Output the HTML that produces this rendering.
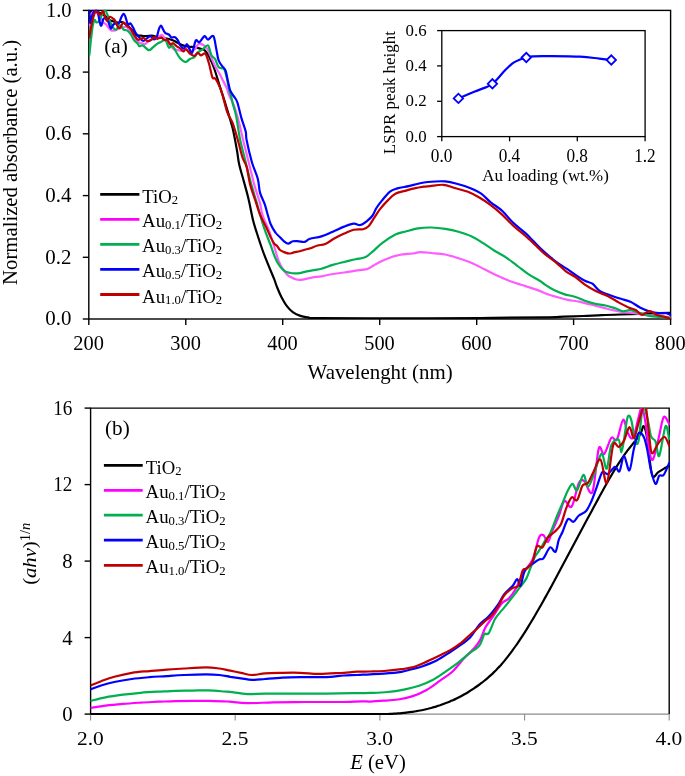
<!DOCTYPE html><html><head><meta charset="utf-8"><title>Absorbance</title><style>html,body{margin:0;padding:0;background:#fff;width:685px;height:776px;overflow:hidden}svg{display:block;will-change:transform}text{font-family:"Liberation Serif",serif;fill:#000}</style></head><body>
<svg width="685" height="776" viewBox="0 0 685 776">
<defs><clipPath id="ca"><rect x="88.8" y="9.4" width="582.8" height="309.6"/></clipPath><clipPath id="cb"><rect x="90.6" y="408.1" width="579.6" height="307.0"/></clipPath></defs>
<g stroke="#000" stroke-width="1.4" fill="none"><rect x="88.8" y="10.4" width="581.8" height="308.6"/><line x1="88.8" y1="319.0" x2="88.8" y2="325.0"/><line x1="185.8" y1="319.0" x2="185.8" y2="325.0"/><line x1="282.7" y1="319.0" x2="282.7" y2="325.0"/><line x1="379.7" y1="319.0" x2="379.7" y2="325.0"/><line x1="476.7" y1="319.0" x2="476.7" y2="325.0"/><line x1="573.6" y1="319.0" x2="573.6" y2="325.0"/><line x1="670.6" y1="319.0" x2="670.6" y2="325.0"/><line x1="82.8" y1="319.0" x2="88.8" y2="319.0"/><line x1="82.8" y1="257.3" x2="88.8" y2="257.3"/><line x1="82.8" y1="195.6" x2="88.8" y2="195.6"/><line x1="82.8" y1="133.8" x2="88.8" y2="133.8"/><line x1="82.8" y1="72.1" x2="88.8" y2="72.1"/><line x1="82.8" y1="10.4" x2="88.8" y2="10.4"/></g>
<g clip-path="url(#ca)" fill="none" stroke-width="2.2" stroke-linejoin="round" stroke-linecap="round">
<path d="M89.0,13.0 C89.5,12.7 90.8,11.2 92.0,11.0 C93.2,10.8 94.7,11.2 96.0,11.5 C97.3,11.8 98.5,12.2 100.0,13.0 C101.5,13.8 103.4,14.8 105.0,16.0 C106.6,17.1 108.0,19.0 109.5,19.9 C111.0,20.8 112.5,21.2 113.9,21.6 C115.3,22.0 116.5,22.4 117.8,22.5 C119.1,22.6 120.3,21.7 121.8,22.1 C123.3,22.5 125.2,23.7 127.0,25.1 C128.8,26.5 130.7,28.7 132.3,30.4 C133.9,32.1 135.2,34.3 136.7,35.2 C138.2,36.1 139.8,35.5 141.1,35.7 C142.4,35.9 143.1,36.2 144.4,36.2 C145.7,36.2 147.4,35.9 148.8,35.8 C150.2,35.7 151.7,35.6 153.1,35.8 C154.5,36.0 155.9,36.7 157.5,37.1 C159.1,37.5 161.1,37.7 162.8,38.0 C164.6,38.3 166.2,38.4 168.0,38.8 C169.8,39.2 171.7,39.9 173.3,40.6 C174.9,41.3 176.1,42.0 177.7,42.8 C179.3,43.6 181.0,44.8 182.9,45.4 C184.8,46.0 187.1,46.4 189.0,46.7 C190.9,47.0 192.6,46.9 194.3,47.2 C196.0,47.5 197.6,47.9 199.3,48.4 C201.0,48.9 202.9,48.8 204.5,50.1 C206.1,51.4 207.3,53.2 208.9,56.3 C210.5,59.4 212.3,63.2 214.2,68.5 C216.1,73.8 218.3,81.4 220.3,87.8 C222.3,94.2 224.4,100.4 226.4,107.1 C228.4,113.8 230.8,120.9 232.6,128.1 C234.3,135.2 235.8,144.1 236.9,150.0 C238.0,155.9 237.9,158.2 239.0,163.4 C240.1,168.6 242.1,175.1 243.7,180.9 C245.3,186.7 246.8,191.9 248.4,198.4 C250.0,204.9 251.6,214.3 253.0,220.0 C254.4,225.7 255.1,227.5 256.7,232.5 C258.3,237.5 260.6,244.6 262.5,250.0 C264.4,255.4 266.4,260.3 268.4,265.2 C270.3,270.1 272.8,275.6 274.2,279.2 C275.6,282.8 275.8,284.1 277.0,287.0 C278.2,289.9 279.7,293.7 281.4,296.9 C283.1,300.1 285.2,303.9 287.1,306.4 C289.0,308.9 290.6,310.5 292.8,312.1 C295.0,313.7 297.9,315.0 300.4,315.9 C302.9,316.8 304.9,317.0 308.0,317.4 C311.1,317.8 304.0,318.0 319.3,318.2 C334.6,318.4 373.2,318.3 400.0,318.3 C426.8,318.3 455.8,318.2 480.0,318.0 C504.2,317.8 531.0,317.5 545.0,317.3 C559.0,317.1 557.7,316.8 564.0,316.6 C570.3,316.4 576.7,316.2 583.0,316.0 C589.3,315.8 595.6,315.4 601.9,315.2 C608.2,314.9 614.6,314.7 620.9,314.5 C627.2,314.3 633.6,314.1 639.9,313.9 C646.2,313.7 653.9,313.4 658.9,313.2 C663.9,313.0 668.1,312.9 670.0,312.8" stroke="#000"/>
<path d="M89.5,25.0 C89.6,24.3 89.9,22.8 90.3,20.8 C90.7,18.8 91.2,14.4 92.0,12.9 C92.8,11.4 94.0,11.8 95.0,12.0 C96.0,12.2 97.0,13.0 98.0,14.0 C99.0,15.0 100.1,16.6 101.0,18.0 C101.9,19.4 102.6,21.4 103.4,22.5 C104.2,23.6 105.1,23.4 106.0,24.3 C106.9,25.2 107.7,26.8 108.6,27.8 C109.5,28.8 110.3,30.0 111.3,30.4 C112.3,30.8 113.6,30.7 114.8,30.4 C116.0,30.1 117.1,29.0 118.3,28.6 C119.5,28.2 120.5,28.1 121.8,27.8 C123.1,27.5 124.8,26.3 126.2,26.9 C127.7,27.5 129.1,29.4 130.5,31.3 C131.9,33.2 133.4,36.4 134.9,38.3 C136.4,40.2 138.0,41.8 139.3,42.7 C140.6,43.6 142.0,43.2 142.8,43.5 C143.7,43.8 143.4,44.9 144.4,44.5 C145.4,44.1 147.4,42.0 148.8,41.0 C150.2,40.0 151.7,39.0 153.1,38.4 C154.5,37.8 156.0,38.1 157.5,37.5 C159.0,36.9 160.6,34.6 161.9,34.9 C163.2,35.2 164.2,38.1 165.4,39.3 C166.6,40.5 167.6,40.3 168.9,41.9 C170.2,43.5 172.0,47.6 173.3,48.9 C174.6,50.2 175.5,49.5 176.8,49.8 C178.1,50.1 179.8,50.9 181.2,50.7 C182.6,50.6 183.9,48.8 185.5,48.9 C187.1,49.0 189.2,51.5 190.8,51.5 C192.4,51.5 194.2,49.7 195.2,48.9 C196.2,48.1 195.8,47.5 196.6,46.6 C197.4,45.7 198.1,43.4 199.8,43.7 C201.5,44.0 205.0,46.2 206.9,48.4 C208.8,50.6 209.7,54.1 211.0,57.0 C212.3,59.9 213.6,63.1 215.0,65.9 C216.4,68.7 218.3,71.5 219.7,74.0 C221.1,76.5 222.0,78.7 223.2,81.0 C224.4,83.3 225.7,85.7 226.7,88.0 C227.7,90.3 227.8,92.2 229.0,95.0 C230.2,97.8 232.1,100.7 233.7,105.0 C235.3,109.3 237.1,115.3 238.7,121.1 C240.3,126.9 241.5,133.3 243.1,140.0 C244.7,146.7 246.6,153.6 248.4,161.0 C250.2,168.4 252.3,177.4 254.2,184.4 C256.1,191.4 258.6,198.0 260.0,203.1 C261.4,208.2 261.1,210.7 262.5,215.0 C263.9,219.3 266.4,223.8 268.4,229.0 C270.3,234.2 272.4,241.1 274.2,246.5 C275.9,251.9 277.3,257.8 278.9,261.7 C280.4,265.6 281.9,267.6 283.5,269.9 C285.1,272.2 286.4,274.2 288.2,275.7 C289.9,277.1 292.0,277.9 294.0,278.6 C296.0,279.3 297.4,280.1 300.4,279.9 C303.4,279.7 308.3,278.2 311.8,277.6 C315.3,277.0 317.9,276.9 321.4,276.3 C324.9,275.7 329.0,274.6 332.8,274.0 C336.6,273.4 340.4,273.1 344.2,272.5 C348.0,271.9 351.7,271.2 355.5,270.6 C359.3,270.0 363.7,270.1 366.9,269.1 C370.1,268.2 371.3,266.5 374.5,264.9 C377.7,263.2 381.8,260.8 385.9,259.2 C390.0,257.6 394.8,255.9 399.2,255.0 C403.6,254.1 409.0,254.0 412.5,253.5 C416.0,253.0 416.9,252.3 420.1,252.2 C423.3,252.1 427.3,252.6 431.5,253.0 C435.7,253.4 440.7,253.6 445.2,254.5 C449.7,255.4 454.1,256.9 458.5,258.3 C462.9,259.7 467.4,261.1 471.8,263.0 C476.2,264.9 480.9,267.6 485.0,269.6 C489.1,271.7 492.3,273.4 496.4,275.3 C500.5,277.2 505.6,279.4 509.7,281.0 C513.8,282.6 516.7,283.4 521.1,284.8 C525.5,286.2 531.9,288.0 536.3,289.6 C540.7,291.2 544.4,293.1 547.7,294.3 C551.1,295.5 553.0,296.0 556.4,296.9 C559.8,297.8 564.0,299.0 567.8,299.8 C571.6,300.6 575.4,300.9 579.2,301.7 C583.0,302.5 586.7,303.6 590.5,304.5 C594.3,305.4 598.1,306.4 601.9,307.4 C605.7,308.3 609.8,309.4 613.3,310.2 C616.8,311.0 619.3,311.6 622.8,312.1 C626.3,312.6 630.7,312.6 634.2,313.1 C637.7,313.6 640.2,314.5 643.7,315.0 C647.2,315.5 651.3,315.6 655.1,315.9 C658.9,316.2 664.0,316.6 666.5,316.9 C669.0,317.2 669.4,317.4 670.0,317.5" stroke="#ff5cff"/>
<path d="M89.4,54.9 C89.7,52.1 90.5,43.3 91.1,38.3 C91.7,33.3 92.3,28.2 92.9,25.1 C93.5,22.0 94.0,20.3 94.6,19.9 C95.2,19.5 95.7,22.4 96.4,22.5 C97.1,22.6 98.0,22.2 99.0,20.8 C100.0,19.4 101.5,15.6 102.5,13.8 C103.5,12.1 104.2,10.0 105.1,10.3 C106.0,10.6 106.9,13.5 107.8,15.5 C108.7,17.5 109.4,20.3 110.4,22.5 C111.4,24.7 112.9,27.4 113.9,28.6 C114.9,29.8 115.5,30.1 116.5,29.5 C117.5,28.9 118.8,25.1 120.0,25.1 C121.2,25.1 122.3,28.6 123.5,29.5 C124.7,30.4 125.8,29.7 127.0,30.4 C128.2,31.1 129.3,32.3 130.5,33.9 C131.7,35.5 132.8,38.4 134.0,40.0 C135.2,41.6 136.7,42.5 137.6,43.5 C138.5,44.5 138.6,45.9 139.3,46.2 C140.0,46.5 141.2,45.4 141.9,45.3 C142.6,45.2 142.3,45.0 143.5,45.8 C144.7,46.6 147.2,50.0 148.8,50.2 C150.4,50.4 151.7,48.3 153.1,47.2 C154.5,46.1 156.2,44.5 157.5,43.6 C158.8,42.7 159.7,42.5 161.0,41.9 C162.3,41.3 164.1,39.1 165.4,40.1 C166.7,41.1 167.7,46.7 168.9,47.6 C170.1,48.5 171.2,45.1 172.4,45.8 C173.6,46.4 174.6,49.4 175.9,51.5 C177.2,53.6 178.7,56.8 180.3,58.5 C181.9,60.2 183.9,61.9 185.5,62.0 C187.1,62.1 188.4,59.8 189.9,59.0 C191.4,58.2 193.0,58.3 194.3,57.2 C195.6,56.1 196.4,53.7 197.8,52.4 C199.2,51.1 201.1,50.5 202.8,49.3 C204.5,48.1 206.6,44.4 208.0,45.4 C209.4,46.4 210.3,53.1 211.5,55.4 C212.7,57.6 213.8,57.0 215.0,58.9 C216.2,60.8 217.3,65.5 218.5,67.0 C219.7,68.5 221.0,67.8 222.0,68.2 C223.0,68.6 223.6,67.9 224.4,69.4 C225.2,71.0 225.9,74.2 226.7,77.5 C227.5,80.8 228.2,85.9 229.0,89.2 C229.8,92.5 230.8,95.1 231.4,97.4 C232.0,99.7 231.8,99.9 232.6,103.0 C233.4,106.1 234.8,109.6 236.1,115.8 C237.4,122.0 238.6,132.5 240.2,140.0 C241.8,147.5 243.6,153.6 245.4,161.0 C247.2,168.4 249.5,177.6 251.3,184.4 C253.2,191.2 255.0,196.8 256.5,201.9 C258.0,207.0 258.8,210.3 260.2,215.0 C261.6,219.7 263.1,225.1 264.9,230.2 C266.6,235.3 268.9,240.7 270.7,245.4 C272.4,250.1 273.8,254.7 275.4,258.2 C276.9,261.7 278.4,264.2 280.0,266.4 C281.6,268.5 283.1,270.0 284.7,271.1 C286.3,272.2 287.6,272.4 289.4,272.8 C291.1,273.2 293.2,273.4 295.2,273.4 C297.1,273.4 299.0,273.2 301.1,272.8 C303.2,272.4 305.8,271.6 308.1,271.1 C310.4,270.6 312.9,270.3 315.1,269.9 C317.3,269.5 318.4,269.5 321.4,268.7 C324.3,267.9 329.0,266.0 332.8,264.9 C336.6,263.8 340.4,262.9 344.2,262.0 C348.0,261.1 352.0,260.0 355.5,259.2 C359.0,258.4 362.1,258.6 365.0,257.3 C367.9,256.0 369.8,254.0 372.6,251.6 C375.5,249.2 378.3,245.9 382.1,243.1 C385.9,240.2 391.6,236.4 395.4,234.5 C399.2,232.6 401.1,232.7 404.9,231.7 C408.7,230.7 413.8,229.0 418.2,228.3 C422.6,227.6 427.0,227.4 431.5,227.5 C436.0,227.6 440.7,228.1 445.2,228.8 C449.7,229.5 454.1,230.4 458.5,231.7 C462.9,233.0 467.7,234.5 471.8,236.4 C475.9,238.3 479.3,240.7 483.1,243.1 C486.9,245.5 490.7,248.3 494.5,250.7 C498.3,253.1 502.1,254.8 505.9,257.3 C509.7,259.8 513.5,263.0 517.3,265.8 C521.1,268.6 524.9,271.9 528.7,274.4 C532.5,276.9 537.4,279.3 540.1,281.0 C542.8,282.7 542.6,283.1 545.0,284.6 C547.4,286.2 551.3,288.7 554.5,290.3 C557.7,291.9 560.5,293.0 564.0,294.1 C567.5,295.2 571.9,295.9 575.4,297.0 C578.9,298.1 581.7,299.6 584.9,300.7 C588.1,301.8 590.9,302.8 594.4,303.6 C597.9,304.4 602.2,304.7 605.7,305.5 C609.2,306.3 612.4,307.4 615.2,308.3 C618.1,309.2 620.3,310.9 622.8,311.2 C625.3,311.5 627.5,309.9 630.4,310.2 C633.2,310.5 636.7,312.2 639.9,313.1 C643.1,314.1 646.2,315.3 649.4,315.9 C652.6,316.5 655.4,316.6 658.9,316.9 C662.4,317.2 668.4,317.6 670.3,317.8" stroke="#00b050"/>
<path d="M89.3,10.5 C89.5,12.6 89.8,22.1 90.3,23.0 C90.8,23.9 91.4,17.8 92.0,16.0 C92.6,14.2 92.9,12.8 93.8,12.0 C94.7,11.2 96.1,8.8 97.3,11.1 C98.5,13.4 99.8,24.3 100.8,25.6 C101.8,26.9 102.5,20.2 103.4,19.0 C104.3,17.8 105.1,17.5 106.0,18.1 C106.9,18.7 107.8,20.8 108.6,22.5 C109.4,24.2 110.1,28.2 110.8,28.6 C111.5,29.0 112.2,26.0 113.0,25.1 C113.8,24.2 114.8,23.7 115.7,23.4 C116.7,23.1 117.8,24.4 118.7,23.4 C119.6,22.4 120.5,18.9 121.3,17.3 C122.1,15.7 122.8,14.0 123.5,13.8 C124.2,13.7 124.6,14.6 125.3,16.4 C126.0,18.1 127.0,23.1 127.9,24.3 C128.8,25.5 129.6,22.8 130.5,23.4 C131.4,24.0 132.3,26.2 133.2,27.8 C134.1,29.4 134.8,31.4 135.8,33.0 C136.8,34.6 138.6,36.5 139.3,37.4 C140.0,38.3 139.3,37.8 140.0,38.4 C140.7,39.0 142.3,41.0 143.5,41.0 C144.7,41.0 145.8,39.2 147.0,38.4 C148.2,37.6 149.3,36.1 150.5,36.2 C151.7,36.4 153.0,39.1 154.0,39.3 C155.0,39.5 155.8,39.1 156.6,37.5 C157.4,35.9 158.1,31.6 158.8,29.6 C159.5,27.6 160.3,25.7 161.0,25.7 C161.7,25.7 162.5,28.4 163.2,29.6 C163.9,30.8 164.4,32.3 165.4,33.1 C166.4,33.9 167.9,33.8 168.9,34.5 C169.9,35.2 170.6,37.1 171.5,37.5 C172.4,37.9 173.6,36.7 174.6,37.1 C175.6,37.5 176.8,38.7 177.7,40.1 C178.6,41.5 179.3,44.0 180.3,45.4 C181.3,46.8 182.7,48.7 183.8,48.5 C184.9,48.3 186.0,44.0 186.9,44.1 C187.8,44.2 188.6,47.5 189.5,48.9 C190.4,50.3 191.0,54.2 192.1,52.8 C193.2,51.4 194.6,42.2 195.8,40.5 C197.0,38.8 197.9,43.0 199.3,42.3 C200.8,41.6 203.1,36.5 204.5,36.1 C205.9,35.7 206.5,39.6 208.0,39.6 C209.5,39.6 211.9,34.6 213.3,36.1 C214.7,37.6 215.3,44.4 216.2,48.4 C217.1,52.4 217.5,57.1 218.5,60.0 C219.5,62.9 220.8,64.2 222.0,65.9 C223.2,67.7 224.5,68.0 225.5,70.5 C226.5,73.0 227.1,77.7 227.9,81.0 C228.7,84.3 229.2,87.9 230.2,90.4 C231.2,92.9 232.5,94.3 233.7,96.2 C234.9,98.1 235.9,98.4 237.2,102.0 C238.5,105.6 239.9,112.7 241.3,117.6 C242.7,122.5 244.8,127.9 245.7,131.6 C246.6,135.3 245.6,134.9 246.6,140.0 C247.6,145.1 250.1,155.8 251.9,162.2 C253.8,168.6 256.3,173.4 257.7,178.5 C259.1,183.6 258.8,188.3 260.0,192.6 C261.2,196.9 263.4,200.5 264.7,204.2 C266.0,207.9 266.8,211.7 267.8,215.0 C268.8,218.3 269.4,221.4 270.7,224.3 C272.0,227.2 273.8,230.3 275.4,232.5 C276.9,234.7 278.6,235.7 280.0,237.2 C281.4,238.7 282.7,240.2 284.1,241.3 C285.5,242.4 286.7,243.6 288.2,243.6 C289.7,243.6 291.1,241.7 292.9,241.3 C294.6,240.9 296.8,241.2 298.7,241.3 C300.6,241.4 302.7,242.3 304.6,241.9 C306.5,241.5 307.2,239.6 310.0,238.7 C312.8,237.8 317.6,237.6 321.4,236.4 C325.2,235.2 329.0,233.3 332.8,231.7 C336.6,230.1 340.7,227.9 344.2,226.6 C347.7,225.3 351.0,224.0 353.7,223.7 C356.4,223.4 358.1,225.4 360.3,225.0 C362.5,224.6 364.8,222.8 366.9,221.2 C368.9,219.6 371.0,217.7 372.6,215.5 C374.2,213.3 374.8,210.5 376.4,208.0 C378.0,205.5 379.9,203.1 382.1,200.4 C384.3,197.7 387.2,193.8 389.7,191.8 C392.2,189.8 394.1,189.4 397.3,188.4 C400.5,187.4 405.2,186.9 408.7,186.1 C412.2,185.3 415.0,184.4 418.2,183.7 C421.4,183.0 423.2,182.4 427.7,182.0 C432.2,181.6 440.1,181.0 445.2,181.4 C450.3,181.8 454.4,183.1 458.5,184.2 C462.6,185.3 466.1,186.4 469.9,188.0 C473.7,189.6 477.7,191.3 481.2,193.7 C484.7,196.1 487.2,199.5 490.7,202.3 C494.2,205.2 498.3,207.3 502.1,210.8 C505.9,214.3 509.7,219.5 513.5,223.1 C517.3,226.7 521.7,229.8 524.9,232.6 C528.1,235.4 529.3,237.0 532.5,240.2 C535.7,243.4 540.5,248.5 543.9,251.6 C547.2,254.7 549.9,256.8 552.6,259.0 C555.3,261.2 557.7,263.0 560.2,264.7 C562.7,266.4 564.9,267.5 567.8,269.4 C570.6,271.3 574.4,274.2 577.3,276.1 C580.1,278.0 582.4,279.5 584.9,280.8 C587.4,282.1 589.9,282.0 592.4,283.7 C594.9,285.4 597.1,289.3 600.0,291.2 C602.9,293.1 606.0,293.7 609.5,295.0 C613.0,296.3 617.4,297.7 620.9,298.8 C624.4,299.9 627.2,300.3 630.4,301.7 C633.6,303.1 636.7,305.8 639.9,307.4 C643.1,309.0 646.2,310.2 649.4,311.2 C652.6,312.1 656.0,312.8 658.9,313.1 C661.8,313.4 664.6,312.8 666.5,313.1 C668.4,313.4 669.7,314.7 670.3,315.0" stroke="#0000ff"/>
<path d="M89.4,37.4 C89.7,35.6 90.4,30.2 91.1,26.9 C91.8,23.5 92.6,19.9 93.3,17.3 C94.0,14.8 94.8,12.3 95.5,11.6 C96.2,10.9 96.9,12.4 97.7,12.9 C98.5,13.4 99.4,14.9 100.3,14.6 C101.2,14.3 102.3,10.9 103.0,11.1 C103.7,11.2 104.0,13.9 104.7,15.5 C105.4,17.1 106.0,20.6 106.9,20.8 C107.8,21.0 109.0,17.2 110.0,16.8 C111.0,16.4 112.1,17.9 113.0,18.6 C113.9,19.3 114.4,19.4 115.2,20.8 C116.0,22.2 117.0,25.7 117.8,26.9 C118.6,28.1 119.0,28.5 120.0,27.8 C121.0,27.1 122.3,22.8 123.5,22.5 C124.7,22.2 125.8,25.0 127.0,26.0 C128.2,27.0 129.3,27.1 130.5,28.6 C131.7,30.1 132.8,33.0 134.0,34.8 C135.2,36.6 136.6,38.9 137.6,39.6 C138.6,40.3 139.2,39.5 140.2,39.2 C141.2,38.9 142.4,37.7 143.5,38.0 C144.6,38.3 145.7,40.7 147.0,41.0 C148.3,41.3 150.2,40.4 151.4,39.7 C152.6,39.1 153.0,37.2 154.0,37.1 C155.0,37.0 156.3,38.7 157.5,38.8 C158.7,38.9 159.8,37.3 161.0,37.5 C162.2,37.7 163.5,39.7 164.5,40.1 C165.5,40.5 166.2,39.0 167.2,39.7 C168.1,40.4 169.2,43.9 170.2,44.5 C171.2,45.1 172.2,42.9 173.3,43.2 C174.4,43.5 175.6,45.4 176.8,46.3 C178.0,47.2 179.2,47.6 180.3,48.5 C181.4,49.4 182.5,51.4 183.4,51.5 C184.3,51.6 184.9,48.9 186.0,49.3 C187.1,49.7 188.5,52.6 189.9,53.7 C191.3,54.8 193.0,56.0 194.3,55.9 C195.6,55.8 196.7,52.9 197.8,52.8 C198.9,52.7 199.7,55.2 201.0,55.4 C202.3,55.5 204.1,52.4 205.4,53.7 C206.7,55.0 207.7,59.4 208.9,63.3 C210.1,67.2 211.4,74.8 212.4,77.3 C213.4,79.8 214.1,77.3 215.0,78.2 C215.9,79.1 216.5,80.1 217.7,82.6 C218.9,85.1 220.4,88.1 222.0,93.1 C223.6,98.0 225.5,107.3 227.3,112.3 C229.1,117.3 230.8,118.3 232.6,122.9 C234.3,127.5 236.2,134.2 237.8,140.0 C239.5,145.8 241.0,153.0 242.5,157.5 C244.0,162.0 245.3,162.4 246.6,166.9 C247.9,171.4 248.6,178.8 250.1,184.4 C251.6,190.0 253.7,195.6 255.4,200.7 C257.1,205.8 258.4,210.7 260.2,215.0 C262.0,219.3 264.2,223.0 266.0,226.7 C267.8,230.4 269.3,234.4 270.7,237.2 C272.1,240.0 273.1,242.1 274.2,243.6 C275.3,245.1 276.1,244.8 277.1,245.9 C278.1,247.0 278.7,248.9 280.0,250.0 C281.3,251.1 283.1,251.8 284.7,252.4 C286.3,253.0 287.8,253.5 289.4,253.5 C290.9,253.5 292.2,252.8 294.0,252.4 C295.8,252.0 297.9,251.7 299.9,251.2 C301.8,250.7 303.9,250.0 305.7,249.5 C307.4,249.0 308.4,249.0 310.4,248.3 C312.4,247.6 315.1,246.2 317.6,245.5 C320.1,244.8 322.4,245.2 325.2,244.0 C328.0,242.8 331.5,240.0 334.7,238.3 C337.9,236.6 341.0,235.0 344.2,233.6 C347.4,232.2 350.5,230.5 353.7,229.8 C356.9,229.1 360.6,229.8 363.1,229.2 C365.6,228.6 366.9,228.0 368.8,226.0 C370.7,224.0 372.6,220.2 374.5,217.4 C376.4,214.6 378.0,211.7 380.2,208.9 C382.4,206.1 385.3,202.9 387.8,200.4 C390.3,197.9 392.5,195.3 395.4,193.7 C398.2,192.1 401.7,191.8 404.9,190.9 C408.1,190.0 411.2,189.1 414.4,188.4 C417.6,187.7 421.3,187.1 423.9,186.7 C426.5,186.3 426.8,186.4 430.0,186.1 C433.2,185.8 439.2,184.5 443.3,184.8 C447.4,185.1 450.6,186.8 454.7,188.0 C458.8,189.2 463.9,190.2 468.0,191.8 C472.1,193.4 475.5,195.3 479.3,197.5 C483.1,199.7 486.9,202.2 490.7,205.1 C494.5,207.9 498.3,211.1 502.1,214.6 C505.9,218.1 509.7,222.5 513.5,226.0 C517.3,229.5 521.1,232.2 524.9,235.5 C528.7,238.8 532.9,242.8 536.3,245.9 C539.6,249.0 541.6,251.4 545.0,254.2 C548.4,257.0 552.9,259.9 556.4,262.8 C559.9,265.7 562.7,268.9 565.9,271.3 C569.1,273.7 572.2,274.8 575.4,277.0 C578.6,279.2 581.4,282.2 584.9,284.6 C588.4,287.0 592.4,289.3 596.2,291.2 C600.0,293.1 603.8,294.1 607.6,296.0 C611.4,297.9 615.5,300.7 619.0,302.6 C622.5,304.5 625.6,306.1 628.5,307.4 C631.4,308.7 633.9,308.9 636.1,310.2 C638.3,311.5 639.6,314.8 641.8,315.0 C644.0,315.2 646.9,311.2 649.4,311.2 C651.9,311.2 654.5,314.1 657.0,315.0 C659.5,315.9 662.4,316.3 664.6,316.9 C666.8,317.5 669.3,318.5 670.3,318.8" stroke="#c00000"/>
</g>
<text transform="translate(73.31,350.25) scale(1.0195,1.0074)" font-size="20">200</text>
<text transform="translate(170.28,350.25) scale(1.0195,1.0074)" font-size="20">300</text>
<text transform="translate(267.25,350.25) scale(1.0195,1.0074)" font-size="20">400</text>
<text transform="translate(364.21,350.25) scale(1.0195,1.0074)" font-size="20">500</text>
<text transform="translate(461.18,350.25) scale(1.0195,1.0074)" font-size="20">600</text>
<text transform="translate(558.15,350.25) scale(1.0195,1.0074)" font-size="20">700</text>
<text transform="translate(655.11,350.25) scale(1.0195,1.0074)" font-size="20">800</text>
<text transform="translate(45.31,325.44) scale(1.0468,1.0593)" font-size="20">0.0</text>
<text transform="translate(45.31,263.72) scale(1.0468,1.0593)" font-size="20">0.2</text>
<text transform="translate(45.31,202.00) scale(1.0468,1.0593)" font-size="20">0.4</text>
<text transform="translate(45.31,140.28) scale(1.0468,1.0593)" font-size="20">0.6</text>
<text transform="translate(45.31,78.56) scale(1.0468,1.0593)" font-size="20">0.8</text>
<text transform="translate(45.90,16.94) scale(1.0267,1.0222)" font-size="20">1.0</text>
<text transform="translate(307.60,379.28) scale(1.0449,1.0167)" font-size="20">Wavelenght (nm)</text>
<text transform="translate(17.30,284.92) rotate(-90) scale(1.0372,1.0111)" font-size="20">Normalized absorbance (a.u.)</text>
<text transform="translate(104.13,53.08) scale(1.0667,1.0167)" font-size="20">(a)</text>
<line x1="100.2" y1="194.4" x2="139.4" y2="194.4" stroke="#000" stroke-width="2.8"/><text transform="translate(142.25,202.69) scale(1.0116,0.9786)" font-size="18.5">TiO<tspan font-size="12.5" dy="1.8">2</tspan></text><line x1="100.2" y1="219.3" x2="139.4" y2="219.3" stroke="#ff00ff" stroke-width="2.8"/><text transform="translate(142.05,227.36) scale(1.0174,1.0175)" font-size="18.5">Au<tspan font-size="12.5" dy="1.8">0.1</tspan><tspan dy="-1.8">/TiO</tspan><tspan font-size="12.5" dy="1.8">2</tspan></text><line x1="100.2" y1="244.4" x2="139.4" y2="244.4" stroke="#00b050" stroke-width="2.8"/><text transform="translate(142.05,252.46) scale(1.0174,1.0175)" font-size="18.5">Au<tspan font-size="12.5" dy="1.8">0.3</tspan><tspan dy="-1.8">/TiO</tspan><tspan font-size="12.5" dy="1.8">2</tspan></text><line x1="100.2" y1="269.4" x2="139.4" y2="269.4" stroke="#0000ff" stroke-width="2.8"/><text transform="translate(142.05,277.46) scale(1.0174,1.0175)" font-size="18.5">Au<tspan font-size="12.5" dy="1.8">0.5</tspan><tspan dy="-1.8">/TiO</tspan><tspan font-size="12.5" dy="1.8">2</tspan></text><line x1="100.2" y1="294.5" x2="139.4" y2="294.5" stroke="#c00000" stroke-width="2.8"/><text transform="translate(142.05,302.56) scale(1.0174,1.0175)" font-size="18.5">Au<tspan font-size="12.5" dy="1.8">1.0</tspan><tspan dy="-1.8">/TiO</tspan><tspan font-size="12.5" dy="1.8">2</tspan></text>
<g stroke="#000" stroke-width="1.3" fill="none"><rect x="441.8" y="30.6" width="203.3" height="106.0"/><line x1="441.8" y1="136.6" x2="441.8" y2="141.29999999999998"/><line x1="509.6" y1="136.6" x2="509.6" y2="141.29999999999998"/><line x1="577.3" y1="136.6" x2="577.3" y2="141.29999999999998"/><line x1="645.1" y1="136.6" x2="645.1" y2="141.29999999999998"/><line x1="437.1" y1="136.6" x2="441.8" y2="136.6"/><line x1="437.1" y1="101.3" x2="441.8" y2="101.3"/><line x1="437.1" y1="65.9" x2="441.8" y2="65.9"/><line x1="437.1" y1="30.6" x2="441.8" y2="30.6"/></g>
<text transform="translate(430.86,161.92) scale(1.0789,1.1163)" font-size="16">0.0</text>
<text transform="translate(498.63,161.92) scale(1.0789,1.1163)" font-size="16">0.4</text>
<text transform="translate(566.39,161.92) scale(1.0789,1.1163)" font-size="16">0.8</text>
<text transform="translate(634.16,161.92) scale(1.0789,1.1163)" font-size="16">1.2</text>
<text transform="translate(405.57,141.63) scale(1.0526,1.0884)" font-size="16">0.0</text>
<text transform="translate(405.57,106.29) scale(1.0526,1.0884)" font-size="16">0.2</text>
<text transform="translate(405.57,70.96) scale(1.0526,1.0884)" font-size="16">0.4</text>
<text transform="translate(405.57,35.63) scale(1.0526,1.0884)" font-size="16">0.6</text>
<text transform="translate(482.34,181.28) scale(1.0582,1.0345)" font-size="16">Au loading (wt.%)</text>
<text transform="translate(394.73,154.13) rotate(-90) scale(1.0575,1.0759)" font-size="16">LSPR peak height</text>
<path d="M458.4,98.4 C461.0,97.3 469.4,93.8 474.2,91.8 C479.0,89.8 484.3,88.0 487.3,86.7 C490.3,85.4 490.7,85.1 492.4,83.8 C494.1,82.5 495.8,80.7 497.6,78.7 C499.4,76.8 501.5,74.2 503.4,72.1 C505.3,70.0 507.5,67.9 509.2,66.3 C510.9,64.7 511.9,63.7 513.6,62.6 C515.3,61.5 517.4,60.6 519.5,59.7 C521.6,58.9 524.1,58.0 526.3,57.5 C528.5,57.0 529.5,56.6 532.6,56.4 C535.7,56.2 537.1,56.0 545.0,56.1 C552.9,56.2 571.0,56.3 580.0,56.7 C589.0,57.1 594.1,58.1 599.3,58.6 C604.5,59.1 609.3,59.8 611.3,60.0" fill="none" stroke="#0000ff" stroke-width="2.2"/>
<path d="M453.7,98.4 L458.4,93.7 L463.1,98.4 L458.4,103.1 Z" fill="#fff" stroke="#0000ff" stroke-width="1.8"/>
<path d="M487.7,83.8 L492.4,79.1 L497.1,83.8 L492.4,88.5 Z" fill="#fff" stroke="#0000ff" stroke-width="1.8"/>
<path d="M521.6,57.5 L526.3,52.8 L531.0,57.5 L526.3,62.2 Z" fill="#fff" stroke="#0000ff" stroke-width="1.8"/>
<path d="M606.6,60.0 L611.3,55.3 L616.0,60.0 L611.3,64.7 Z" fill="#fff" stroke="#0000ff" stroke-width="1.8"/>
<g stroke="#000" stroke-width="1.4" fill="none"><line x1="90.6" y1="714.1" x2="669.2" y2="714.1" stroke="#8c8c8c" stroke-width="1.1"/><path d="M90.6,714.1 V408.1 H669.2 V714.1"/><line x1="90.6" y1="714.1" x2="90.6" y2="720.6" stroke="#8c8c8c" stroke-width="1.1"/><line x1="235.2" y1="714.1" x2="235.2" y2="720.6" stroke="#8c8c8c" stroke-width="1.1"/><line x1="379.9" y1="714.1" x2="379.9" y2="720.6" stroke="#8c8c8c" stroke-width="1.1"/><line x1="524.6" y1="714.1" x2="524.6" y2="720.6" stroke="#8c8c8c" stroke-width="1.1"/><line x1="669.2" y1="714.1" x2="669.2" y2="720.6" stroke="#8c8c8c" stroke-width="1.1"/><line x1="84.6" y1="714.1" x2="90.6" y2="714.1"/><line x1="84.6" y1="637.6" x2="90.6" y2="637.6"/><line x1="84.6" y1="561.1" x2="90.6" y2="561.1"/><line x1="84.6" y1="484.6" x2="90.6" y2="484.6"/><line x1="84.6" y1="408.1" x2="90.6" y2="408.1"/></g>
<g clip-path="url(#cb)" fill="none" stroke-width="2.2" stroke-linejoin="round" stroke-linecap="round">
<path d="M90.6,714.0 C135.5,714.0 313.1,714.1 360.0,714.1 C406.9,714.2 369.3,714.2 372.0,714.3 C374.7,714.3 374.7,714.3 376.0,714.2 C377.3,714.2 378.7,714.2 380.0,714.2 C381.3,714.2 382.7,714.2 384.0,714.1 C385.3,714.1 386.7,714.0 388.0,714.0 C389.3,713.9 390.7,713.9 392.0,713.8 C393.3,713.7 394.7,713.7 396.0,713.6 C397.3,713.5 398.7,713.4 400.0,713.3 C401.3,713.1 402.7,713.0 404.0,712.9 C405.3,712.7 406.7,712.6 408.0,712.4 C409.3,712.3 410.7,712.1 412.0,711.9 C413.3,711.7 414.7,711.5 416.0,711.2 C417.3,711.0 418.7,710.8 420.0,710.5 C421.3,710.3 422.7,710.0 424.0,709.7 C425.3,709.4 426.7,709.1 428.0,708.8 C429.3,708.4 430.7,708.1 432.0,707.7 C433.3,707.3 434.7,707.0 436.0,706.6 C437.3,706.1 438.7,705.7 440.0,705.3 C441.3,704.8 442.7,704.3 444.0,703.8 C445.3,703.3 446.7,702.8 448.0,702.3 C449.3,701.7 450.7,701.2 452.0,700.6 C453.3,700.0 454.7,699.4 456.0,698.7 C457.3,698.1 458.7,697.4 460.0,696.7 C461.3,696.0 462.7,695.3 464.0,694.5 C465.3,693.8 466.7,693.0 468.0,692.2 C469.3,691.4 470.7,690.6 472.0,689.7 C473.3,688.8 474.7,687.9 476.0,687.0 C477.3,686.1 478.7,685.1 480.0,684.1 C481.3,683.1 482.7,682.1 484.0,681.0 C485.3,680.0 486.7,678.8 488.0,677.7 C489.3,676.5 490.7,675.3 492.0,674.1 C493.3,672.8 494.7,671.5 496.0,670.2 C497.3,668.8 498.7,667.4 500.0,666.0 C501.3,664.5 502.7,663.0 504.0,661.4 C505.3,659.8 506.7,658.1 508.0,656.4 C509.3,654.7 510.7,652.9 512.0,651.1 C513.3,649.3 514.7,647.4 516.0,645.5 C517.3,643.6 518.7,641.7 520.0,639.6 C521.3,637.6 522.7,635.6 524.0,633.5 C525.3,631.4 526.7,629.3 528.0,627.1 C529.3,625.0 530.7,622.7 532.0,620.5 C533.3,618.3 534.7,616.0 536.0,613.7 C537.3,611.4 538.7,609.1 540.0,606.8 C541.3,604.5 542.7,602.1 544.0,599.7 C545.3,597.3 546.7,594.9 548.0,592.5 C549.3,590.1 550.7,587.6 552.0,585.2 C553.3,582.7 554.7,580.3 556.0,577.8 C557.3,575.3 558.7,572.8 560.0,570.3 C561.3,567.8 562.7,565.3 564.0,562.8 C565.3,560.3 566.7,557.8 568.0,555.3 C569.3,552.8 570.7,550.3 572.0,547.8 C573.3,545.3 574.7,542.8 576.0,540.3 C577.3,537.8 578.7,535.3 580.0,532.8 C581.3,530.3 582.7,527.8 584.0,525.3 C585.3,522.8 586.7,520.3 588.0,517.8 C589.3,515.3 590.7,512.8 592.0,510.4 C593.3,507.9 594.7,505.4 596.0,503.0 C597.3,500.5 598.7,498.0 600.0,495.6 C601.3,493.2 602.7,490.7 604.0,488.3 C605.3,485.9 606.7,483.6 608.0,481.2 C609.3,478.9 610.7,476.6 612.0,474.3 C613.3,472.1 614.7,469.8 616.0,467.7 C617.3,465.5 618.7,463.4 620.0,461.4 C621.3,459.3 622.7,457.3 624.0,455.4 C625.3,453.5 626.7,451.7 628.0,449.9 C629.3,448.1 630.0,447.4 632.0,444.8 C634.0,442.2 638.2,437.4 640.2,434.3 C642.2,431.2 642.6,425.3 643.8,426.2 C645.0,427.1 646.3,433.5 647.4,439.7 C648.5,445.9 649.2,457.0 650.1,463.2 C651.0,469.4 651.5,475.2 652.9,476.7 C654.3,478.2 656.2,473.7 658.3,472.2 C660.4,470.7 663.7,468.8 665.5,467.7 C667.3,466.6 668.5,466.2 669.1,465.9" stroke="#000"/>
<path d="M90.6,707.9 C93.1,707.5 100.1,706.4 105.5,705.7 C110.9,705.0 117.2,704.4 123.0,703.9 C128.8,703.4 134.8,703.0 140.6,702.6 C146.4,702.2 152.3,702.0 158.1,701.7 C163.9,701.5 169.8,701.2 175.6,701.1 C181.4,701.0 187.6,700.9 193.1,700.9 C198.6,700.9 203.3,700.8 208.4,700.9 C213.5,701.0 220.2,701.2 223.8,701.3 C227.4,701.4 226.1,701.4 230.0,701.7 C233.9,702.0 240.2,703.0 247.5,703.1 C254.8,703.2 263.9,702.6 273.8,702.4 C283.7,702.2 295.7,702.1 306.6,702.0 C317.6,701.9 330.4,702.1 339.5,702.0 C348.6,701.9 356.3,701.4 361.4,701.3 C366.5,701.2 366.2,701.7 370.0,701.6 C373.8,701.5 379.3,701.1 384.0,700.7 C388.7,700.4 393.3,700.2 398.0,699.5 C402.7,698.8 407.3,697.9 412.0,696.4 C416.7,694.9 421.4,692.8 426.1,690.2 C430.8,687.6 435.7,683.7 440.1,680.6 C444.5,677.5 448.5,675.3 452.3,671.8 C456.1,668.3 459.4,663.4 462.9,659.6 C466.4,655.8 470.5,652.3 473.4,649.1 C476.2,645.9 478.0,644.0 480.0,640.4 C482.0,636.8 483.3,631.3 485.5,627.3 C487.7,623.3 490.4,620.3 493.1,616.3 C495.8,612.3 499.3,606.1 501.9,603.2 C504.5,600.3 506.3,601.0 508.5,598.8 C510.7,596.6 512.5,594.4 515.0,590.0 C517.5,585.6 520.9,577.7 523.8,572.6 C526.7,567.5 530.0,565.2 532.6,559.4 C535.2,553.5 537.3,541.5 539.1,537.5 C540.9,533.5 542.0,534.6 543.5,535.3 C545.0,536.0 546.4,542.6 547.9,541.9 C549.4,541.2 550.4,535.4 552.3,531.0 C554.1,526.6 557.0,520.5 559.0,515.5 C561.0,510.5 562.3,502.5 564.4,501.0 C566.5,499.5 569.3,509.5 571.7,506.5 C574.1,503.5 576.8,487.2 578.9,483.0 C581.0,478.8 582.0,479.7 584.3,481.2 C586.5,482.7 590.0,497.4 592.4,492.0 C594.8,486.6 596.8,455.0 598.7,448.7 C600.7,442.4 602.0,455.9 604.1,454.1 C606.2,452.3 609.2,440.3 611.3,437.9 C613.4,435.5 614.8,442.7 616.8,439.7 C618.8,436.7 621.3,421.0 623.1,419.8 C624.9,418.6 626.0,429.5 627.6,432.5 C629.2,435.5 631.2,440.3 633.0,437.9 C634.8,435.5 636.9,423.1 638.4,418.0 C639.9,412.9 640.8,406.3 642.0,407.2 C643.2,408.1 644.4,416.3 645.6,423.5 C646.8,430.7 648.0,444.5 649.2,450.5 C650.4,456.5 651.4,461.3 652.9,459.5 C654.4,457.7 656.5,446.8 658.3,439.7 C660.1,432.6 661.9,419.7 663.7,417.1 C665.5,414.5 668.2,422.9 669.1,424.0" stroke="#ff00ff"/>
<path d="M90.6,700.9 C93.1,700.3 100.1,698.4 105.5,697.4 C110.9,696.4 117.2,695.5 123.0,694.7 C128.8,693.9 134.8,693.3 140.6,692.8 C146.4,692.3 152.3,692.0 158.1,691.7 C163.9,691.4 169.8,691.0 175.6,690.8 C181.4,690.6 187.6,690.7 193.1,690.6 C198.6,690.5 203.3,690.2 208.4,690.4 C213.5,690.5 220.2,691.2 223.8,691.5 C227.4,691.8 226.1,691.5 230.0,691.9 C233.9,692.3 241.7,693.8 247.5,694.1 C253.3,694.4 257.0,693.7 265.0,693.6 C273.0,693.5 285.5,693.6 295.7,693.6 C305.9,693.6 316.8,693.7 326.3,693.6 C335.8,693.5 345.3,693.3 352.6,693.2 C359.9,693.1 364.2,693.1 370.0,692.9 C375.8,692.7 381.7,692.6 387.5,692.0 C393.3,691.4 399.7,690.3 405.0,689.3 C410.3,688.3 414.4,687.4 419.1,685.8 C423.8,684.2 428.7,682.0 433.1,679.7 C437.5,677.4 441.2,674.6 445.3,671.8 C449.4,669.0 453.8,666.0 457.6,663.1 C461.4,660.2 464.6,657.1 468.1,654.3 C471.6,651.5 476.3,648.8 478.6,646.4 C480.9,644.0 481.0,642.1 482.0,640.0 C483.0,637.9 483.3,635.2 484.4,634.0 C485.5,632.8 487.0,635.6 488.8,633.0 C490.6,630.4 492.8,622.7 495.3,618.5 C497.9,614.3 501.2,611.2 504.1,607.6 C507.0,604.0 510.2,599.9 512.8,596.6 C515.3,593.3 517.2,590.8 519.4,587.9 C521.6,585.0 524.2,582.4 526.0,579.1 C527.8,575.8 528.9,571.9 530.4,568.2 C531.9,564.6 533.2,560.1 534.7,557.2 C536.2,554.3 537.3,553.6 539.1,550.7 C540.9,547.8 543.9,542.6 545.7,539.7 C547.5,536.8 548.1,537.5 550.0,533.5 C551.9,529.5 555.1,520.6 557.2,515.5 C559.3,510.4 560.8,507.1 562.6,502.9 C564.4,498.7 566.3,493.4 568.0,490.2 C569.7,487.0 571.1,483.9 572.6,483.9 C574.1,483.9 575.3,491.7 577.1,490.2 C578.9,488.7 581.6,475.5 583.4,474.9 C585.2,474.3 586.2,486.5 587.9,486.6 C589.5,486.8 591.5,480.3 593.3,475.8 C595.1,471.3 597.2,463.1 598.7,459.5 C600.2,455.9 600.9,452.6 602.3,454.1 C603.6,455.6 605.3,470.1 606.8,468.6 C608.3,467.1 609.3,449.9 611.3,445.1 C613.3,440.3 616.9,438.5 618.6,439.7 C620.3,440.9 620.4,452.3 621.3,452.3 C622.2,452.3 623.0,445.6 624.0,439.7 C625.0,433.8 626.4,420.4 627.6,417.1 C628.8,413.8 630.0,416.2 631.2,419.8 C632.4,423.4 633.6,435.2 634.8,438.8 C636.0,442.4 637.0,446.8 638.4,441.5 C639.8,436.2 641.4,411.1 642.9,407.2 C644.4,403.3 646.0,413.2 647.4,418.0 C648.8,422.8 649.6,432.2 651.0,436.1 C652.4,440.0 654.2,438.2 655.6,441.5 C657.0,444.8 657.6,458.4 659.2,455.9 C660.9,453.3 663.9,429.0 665.5,426.2 C667.1,423.4 668.5,436.9 669.1,439.0" stroke="#00b050"/>
<path d="M90.6,689.3 C92.3,688.7 97.1,686.7 101.1,685.5 C105.0,684.3 109.2,683.1 114.3,682.0 C119.4,680.9 126.0,679.8 131.8,679.0 C137.6,678.2 143.5,677.7 149.3,677.2 C155.1,676.7 161.0,676.5 166.8,676.1 C172.6,675.7 177.7,675.3 184.3,675.0 C190.9,674.7 200.3,674.4 206.2,674.4 C212.0,674.4 215.4,674.6 219.4,675.0 C223.4,675.4 226.7,676.2 230.3,676.8 C233.9,677.3 237.4,677.8 241.0,678.3 C244.6,678.8 247.9,679.8 251.9,679.9 C255.9,680.0 259.9,679.4 265.0,679.0 C270.1,678.6 276.8,678.0 282.6,677.7 C288.5,677.4 294.3,677.3 300.1,677.2 C305.9,677.1 312.5,677.3 317.6,677.2 C322.7,677.1 326.3,677.1 330.7,676.8 C335.1,676.5 339.5,675.8 343.9,675.5 C348.3,675.2 352.6,675.2 357.0,675.0 C361.4,674.8 365.5,674.5 370.0,674.3 C374.5,674.1 378.8,674.0 384.0,673.6 C389.2,673.2 396.8,672.5 401.5,671.8 C406.2,671.1 408.5,670.1 412.0,669.2 C415.5,668.3 418.5,667.7 422.6,666.2 C426.7,664.7 431.9,662.8 436.6,660.4 C441.3,658.0 446.5,654.3 450.6,651.7 C454.7,649.1 457.9,647.0 461.1,644.7 C464.3,642.4 467.6,640.0 469.9,637.7 C472.2,635.4 473.4,633.0 475.1,630.7 C476.8,628.4 477.7,626.4 480.0,624.0 C482.3,621.6 485.9,619.4 488.8,616.3 C491.7,613.2 494.9,609.0 497.5,605.4 C500.1,601.8 501.6,597.7 504.1,594.4 C506.7,591.1 510.6,588.2 512.8,585.7 C515.0,583.2 515.9,579.1 517.2,579.1 C518.5,579.1 519.2,587.2 520.5,585.7 C521.8,584.2 522.9,574.0 524.9,570.4 C526.9,566.8 530.2,565.6 532.6,563.8 C535.0,562.0 537.3,560.3 539.1,559.4 C540.9,558.5 541.7,560.3 543.5,558.3 C545.3,556.3 548.1,548.5 550.1,547.4 C552.1,546.3 554.0,553.1 555.5,551.8 C557.0,550.5 557.6,543.1 558.8,539.7 C560.0,536.4 561.1,535.1 562.6,531.7 C564.1,528.3 566.2,520.8 568.0,519.1 C569.8,517.5 571.7,522.4 573.5,521.8 C575.3,521.2 576.8,517.3 578.9,515.5 C581.0,513.7 584.0,513.4 586.1,511.0 C588.2,508.6 589.7,505.1 591.5,501.0 C593.3,496.9 595.1,491.4 596.9,486.6 C598.7,481.8 600.5,474.3 602.3,472.2 C604.1,470.1 605.6,474.9 607.7,474.0 C609.8,473.1 613.0,467.2 615.0,466.8 C617.0,466.4 618.0,473.1 619.5,471.3 C621.0,469.5 622.4,456.0 624.0,455.9 C625.6,455.8 627.8,471.6 629.4,470.4 C631.0,469.2 632.4,454.9 633.9,448.7 C635.4,442.5 636.8,435.3 638.4,433.4 C640.0,431.4 642.3,434.1 643.8,437.0 C645.3,439.9 646.2,444.9 647.4,450.5 C648.6,456.1 649.6,464.8 651.0,470.4 C652.4,476.0 654.2,483.0 655.6,483.9 C657.0,484.8 657.9,477.3 659.2,475.8 C660.6,474.3 662.1,477.0 663.7,474.9 C665.4,472.8 668.2,465.1 669.1,463.2" stroke="#0000ff"/>
<path d="M90.6,685.5 C92.3,684.8 97.1,682.7 101.1,681.2 C105.0,679.8 109.2,678.2 114.3,676.8 C119.4,675.4 126.0,673.8 131.8,672.8 C137.6,671.8 143.5,671.6 149.3,671.1 C155.1,670.6 161.0,670.0 166.8,669.6 C172.6,669.2 177.7,668.9 184.3,668.5 C190.9,668.1 200.3,667.4 206.2,667.4 C212.0,667.4 215.4,668.0 219.4,668.5 C223.4,669.0 226.7,670.0 230.3,670.7 C233.9,671.4 237.4,672.1 241.0,672.8 C244.6,673.5 247.9,674.9 251.9,675.0 C255.9,675.1 259.9,673.7 265.0,673.3 C270.1,672.9 276.8,672.9 282.6,672.8 C288.5,672.7 294.3,672.6 300.1,672.8 C305.9,673.0 312.5,673.8 317.6,673.9 C322.7,674.0 326.3,673.5 330.7,673.3 C335.1,673.1 339.5,673.1 343.9,672.8 C348.3,672.5 352.6,671.9 357.0,671.7 C361.4,671.5 365.5,671.6 370.0,671.5 C374.5,671.4 378.8,671.4 384.0,671.0 C389.2,670.6 396.8,669.8 401.5,669.2 C406.2,668.6 408.5,668.4 412.0,667.4 C415.5,666.4 418.5,665.1 422.6,663.4 C426.7,661.6 431.9,659.1 436.6,656.9 C441.3,654.6 446.5,652.2 450.6,649.9 C454.7,647.6 457.9,645.4 461.1,642.9 C464.3,640.4 467.0,637.6 469.9,635.0 C472.8,632.4 476.0,629.6 478.6,627.2 C481.2,624.8 483.4,622.5 485.5,620.7 C487.6,618.9 488.9,618.5 490.9,616.3 C492.9,614.1 495.3,611.1 497.5,607.6 C499.7,604.1 501.6,598.8 504.1,595.5 C506.7,592.2 510.4,589.5 512.8,587.9 C515.2,586.3 516.6,588.6 518.3,585.7 C519.9,582.8 521.2,573.3 522.7,570.4 C524.2,567.5 525.5,569.7 527.1,568.2 C528.8,566.7 531.0,565.2 532.6,561.6 C534.2,558.0 535.3,548.7 536.9,546.3 C538.5,543.9 540.6,548.9 542.4,547.4 C544.2,545.9 545.9,540.1 547.9,537.5 C549.9,534.9 552.2,534.2 554.4,532.0 C556.5,529.8 558.8,528.5 560.8,524.5 C562.8,520.5 564.4,512.8 566.2,508.3 C568.0,503.8 569.9,498.8 571.7,497.4 C573.5,496.0 575.3,502.1 577.1,500.1 C578.9,498.2 580.7,488.6 582.5,485.7 C584.3,482.8 586.1,485.2 587.9,483.0 C589.7,480.8 591.2,476.1 593.3,472.2 C595.4,468.3 598.2,457.7 600.5,459.5 C602.8,461.3 604.7,485.4 606.8,483.0 C608.9,480.6 611.2,451.1 613.2,445.1 C615.2,439.1 616.8,447.6 618.6,446.9 C620.4,446.1 622.2,443.9 624.0,440.6 C625.8,437.3 627.8,427.6 629.4,427.1 C631.0,426.7 632.4,438.5 633.9,437.9 C635.4,437.3 637.0,428.0 638.4,423.5 C639.8,419.0 640.8,413.8 642.0,410.8 C643.2,407.8 644.4,401.2 645.6,405.4 C646.8,409.6 648.1,428.1 649.2,436.1 C650.3,444.1 650.5,452.0 652.0,453.2 C653.5,454.4 656.2,446.0 658.3,443.3 C660.4,440.6 662.8,436.6 664.6,437.0 C666.4,437.4 668.4,444.1 669.1,445.5" stroke="#c00000"/>
</g>
<text transform="translate(76.93,744.85) scale(1.0710,0.9852)" font-size="20">2.0</text>
<text transform="translate(221.58,744.85) scale(1.0710,0.9852)" font-size="20">2.5</text>
<text transform="translate(366.23,744.85) scale(1.0710,0.9852)" font-size="20">3.0</text>
<text transform="translate(510.88,744.85) scale(1.0710,0.9852)" font-size="20">3.5</text>
<text transform="translate(655.53,744.85) scale(1.0710,0.9852)" font-size="20">4.0</text>
<text transform="translate(62.32,721.04) scale(1.0353,1.0222)" font-size="20">0</text>
<text transform="translate(62.32,644.54) scale(1.0353,1.0222)" font-size="20">4</text>
<text transform="translate(62.32,568.04) scale(1.0353,1.0222)" font-size="20">8</text>
<text transform="translate(53.13,491.20) scale(0.9565,1.0566)" font-size="20">12</text>
<text transform="translate(53.13,414.70) scale(0.9565,1.0566)" font-size="20">16</text>
<text transform="translate(350.16,768.96) scale(1.0329,1.0444)" font-size="20"><tspan font-style="italic">E</tspan> (eV)</text>
<text transform="translate(36.12,584.83) rotate(-90) scale(1.0308,0.9846)" font-size="20">(<tspan font-style="italic">ahv</tspan>)<tspan font-size="14" dy="-6">1/<tspan font-style="italic">n</tspan></tspan></text>
<text transform="translate(105.04,435.04) scale(1.0605,1.0500)" font-size="20">(b)</text>
<line x1="103.9" y1="465.4" x2="142.7" y2="465.4" stroke="#000" stroke-width="2.8"/><text transform="translate(145.75,473.69) scale(1.0116,0.9786)" font-size="18.5">TiO<tspan font-size="12.5" dy="1.8">2</tspan></text><line x1="103.9" y1="490.3" x2="142.7" y2="490.3" stroke="#ff00ff" stroke-width="2.8"/><text transform="translate(145.55,498.36) scale(1.0174,1.0175)" font-size="18.5">Au<tspan font-size="12.5" dy="1.8">0.1</tspan><tspan dy="-1.8">/TiO</tspan><tspan font-size="12.5" dy="1.8">2</tspan></text><line x1="103.9" y1="515.2" x2="142.7" y2="515.2" stroke="#00b050" stroke-width="2.8"/><text transform="translate(145.55,523.26) scale(1.0174,1.0175)" font-size="18.5">Au<tspan font-size="12.5" dy="1.8">0.3</tspan><tspan dy="-1.8">/TiO</tspan><tspan font-size="12.5" dy="1.8">2</tspan></text><line x1="103.9" y1="540.2" x2="142.7" y2="540.2" stroke="#0000ff" stroke-width="2.8"/><text transform="translate(145.55,548.26) scale(1.0174,1.0175)" font-size="18.5">Au<tspan font-size="12.5" dy="1.8">0.5</tspan><tspan dy="-1.8">/TiO</tspan><tspan font-size="12.5" dy="1.8">2</tspan></text><line x1="103.9" y1="565.3" x2="142.7" y2="565.3" stroke="#c00000" stroke-width="2.8"/><text transform="translate(145.55,573.36) scale(1.0174,1.0175)" font-size="18.5">Au<tspan font-size="12.5" dy="1.8">1.0</tspan><tspan dy="-1.8">/TiO</tspan><tspan font-size="12.5" dy="1.8">2</tspan></text>
</svg></body></html>
